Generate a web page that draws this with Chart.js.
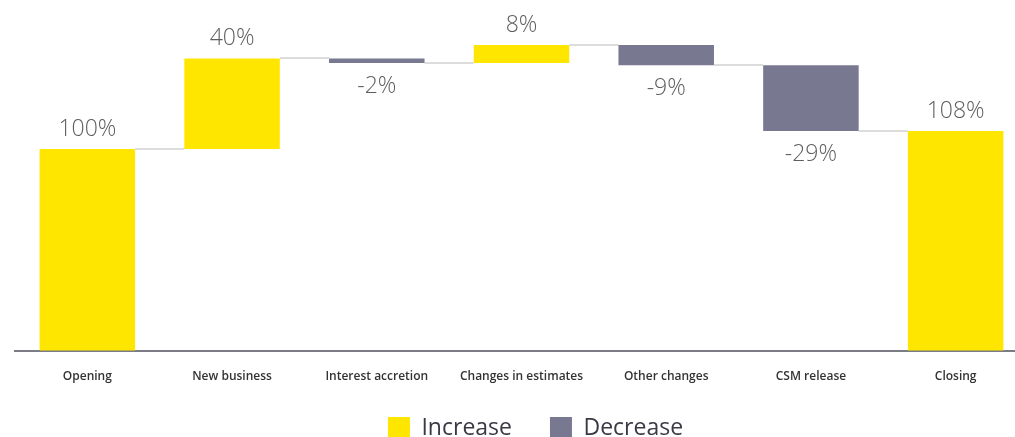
<!DOCTYPE html>
<html>
<head>
<meta charset="utf-8">
<script src="https://cdn.jsdelivr.net/npm/chart.js@4.4.1/dist/chart.umd.min.js"></script>
<style>
  html, body { margin: 0; padding: 0; background: #ffffff; overflow: hidden; }
  #wrap { position: relative; width: 1015px; height: 437px; overflow: hidden; }
  #box { position: absolute; left: 0; top: 0; width: 1030px; height: 474px; }
</style>
</head>
<body>
<div id="wrap"><div id="box"><canvas id="c"></canvas></div></div>
<script>
// CSM movement waterfall
const categories = ['Opening', 'New business', 'Interest accretion', 'Changes in estimates', 'Other changes', 'CSM release', 'Closing'];
const openingValue = 100;
const movements = [40, -2, 8, -9, -29];
const closingValue = 108;
const valueLabels = ['100%', '40%', '-2%', '8%', '-9%', '-29%', '108%'];

const INCREASE = '#FFE600';
const DECREASE = '#787890';

// floating bar ranges built from the running total
const ranges = [];
const kinds = [];
let running = openingValue;
ranges.push([0, openingValue]); kinds.push('up');
movements.forEach(m => {
  ranges.push([running, running + m]);
  kinds.push(m >= 0 ? 'up' : 'down');
  running += m;
});
ranges.push([0, closingValue]); kinds.push('up');

const increaseData = ranges.map((r, i) => kinds[i] === 'up' ? r : null);
const decreaseData = ranges.map((r, i) => kinds[i] === 'down' ? r : null);

function barElement(chart, i) {
  return chart.getDatasetMeta(kinds[i] === 'up' ? 0 : 1).data[i];
}

// thin steps joining each bar's end level to the next bar
const connectorPlugin = {
  id: 'connectors',
  beforeDatasetsDraw(chart) {
    const ctx = chart.ctx;
    const y = chart.scales.y;
    ctx.save();
    ctx.strokeStyle = '#dcdcdc';
    ctx.lineWidth = 2;
    for (let i = 0; i < ranges.length - 1; i++) {
      const a = barElement(chart, i), b = barElement(chart, i + 1);
      const yy = Math.round(y.getPixelForValue(ranges[i][1]));
      ctx.beginPath();
      ctx.moveTo(a.x + a.width / 2, yy);
      ctx.lineTo(b.x - b.width / 2, yy);
      ctx.stroke();
    }
    ctx.restore();
  }
};

// percentage labels: above rising bars, below falling bars
const valueLabelPlugin = {
  id: 'valueLabels',
  afterDatasetsDraw(chart) {
    const ctx = chart.ctx;
    const y = chart.scales.y;
    ctx.save();
    ctx.font = '300 23px "Open Sans", "Noto Sans", sans-serif';
    ctx.fillStyle = '#5e5e5e';
    ctx.textAlign = 'center';
    ctx.textBaseline = 'alphabetic';
    ranges.forEach((r, i) => {
      const e = barElement(chart, i);
      const hi = y.getPixelForValue(Math.max(r[0], r[1]));
      const lo = y.getPixelForValue(Math.min(r[0], r[1]));
      if (kinds[i] === 'up') {
        ctx.fillText(valueLabels[i], e.x, hi - 13);
      } else {
        ctx.fillText(valueLabels[i], e.x, lo + 30);
      }
    });
    ctx.restore();
  }
};

// nudge the legend block right of centre and tuck it under the axis labels
const legendOffset = {
  id: 'legendOffset',
  afterLayout(chart) {
    const lg = chart.legend;
    if (!lg) return;
    const dx = 14;
    const dy = (chart.chartArea.bottom + 28) - lg.top;
    lg.left += dx; lg.right += dx;
    lg.top += dy; lg.bottom += dy;
  }
};

new Chart(document.getElementById('c'), {
  type: 'bar',
  data: {
    labels: categories,
    datasets: [
      { label: 'Increase', data: increaseData, backgroundColor: INCREASE, borderWidth: 0, grouped: false },
      { label: 'Decrease', data: decreaseData, backgroundColor: DECREASE, borderWidth: 0, grouped: false }
    ]
  },
  options: {
    responsive: true,
    maintainAspectRatio: false,
    animation: false,
    layout: { padding: { left: 15, right: 2, top: 20, bottom: 0 } },
    datasets: { bar: { categoryPercentage: 1, barPercentage: 0.66 } },
    scales: {
      x: {
        grid: { display: false, drawTicks: false },
        border: { display: true, color: '#7b7b86', width: 2 },
        ticks: {
          padding: 19,
          color: '#333333',
          font: { family: '"Open Sans", "Noto Sans", sans-serif', size: 12, weight: '600' },
          maxRotation: 0, autoSkip: false
        }
      },
      y: {
        display: false,
        min: 11,
        max: 157
      }
    },
    plugins: {
      legend: {
        position: 'bottom',
        labels: {
          boxWidth: 22,
          boxHeight: 22,
          padding: 38,
          color: '#3a3a44',
          font: { family: '"Open Sans", "Noto Sans", sans-serif', size: 23 }
        }
      },
      tooltip: { enabled: false }
    }
  },
  plugins: [connectorPlugin, valueLabelPlugin, legendOffset]
});
</script>
</body>
</html>
